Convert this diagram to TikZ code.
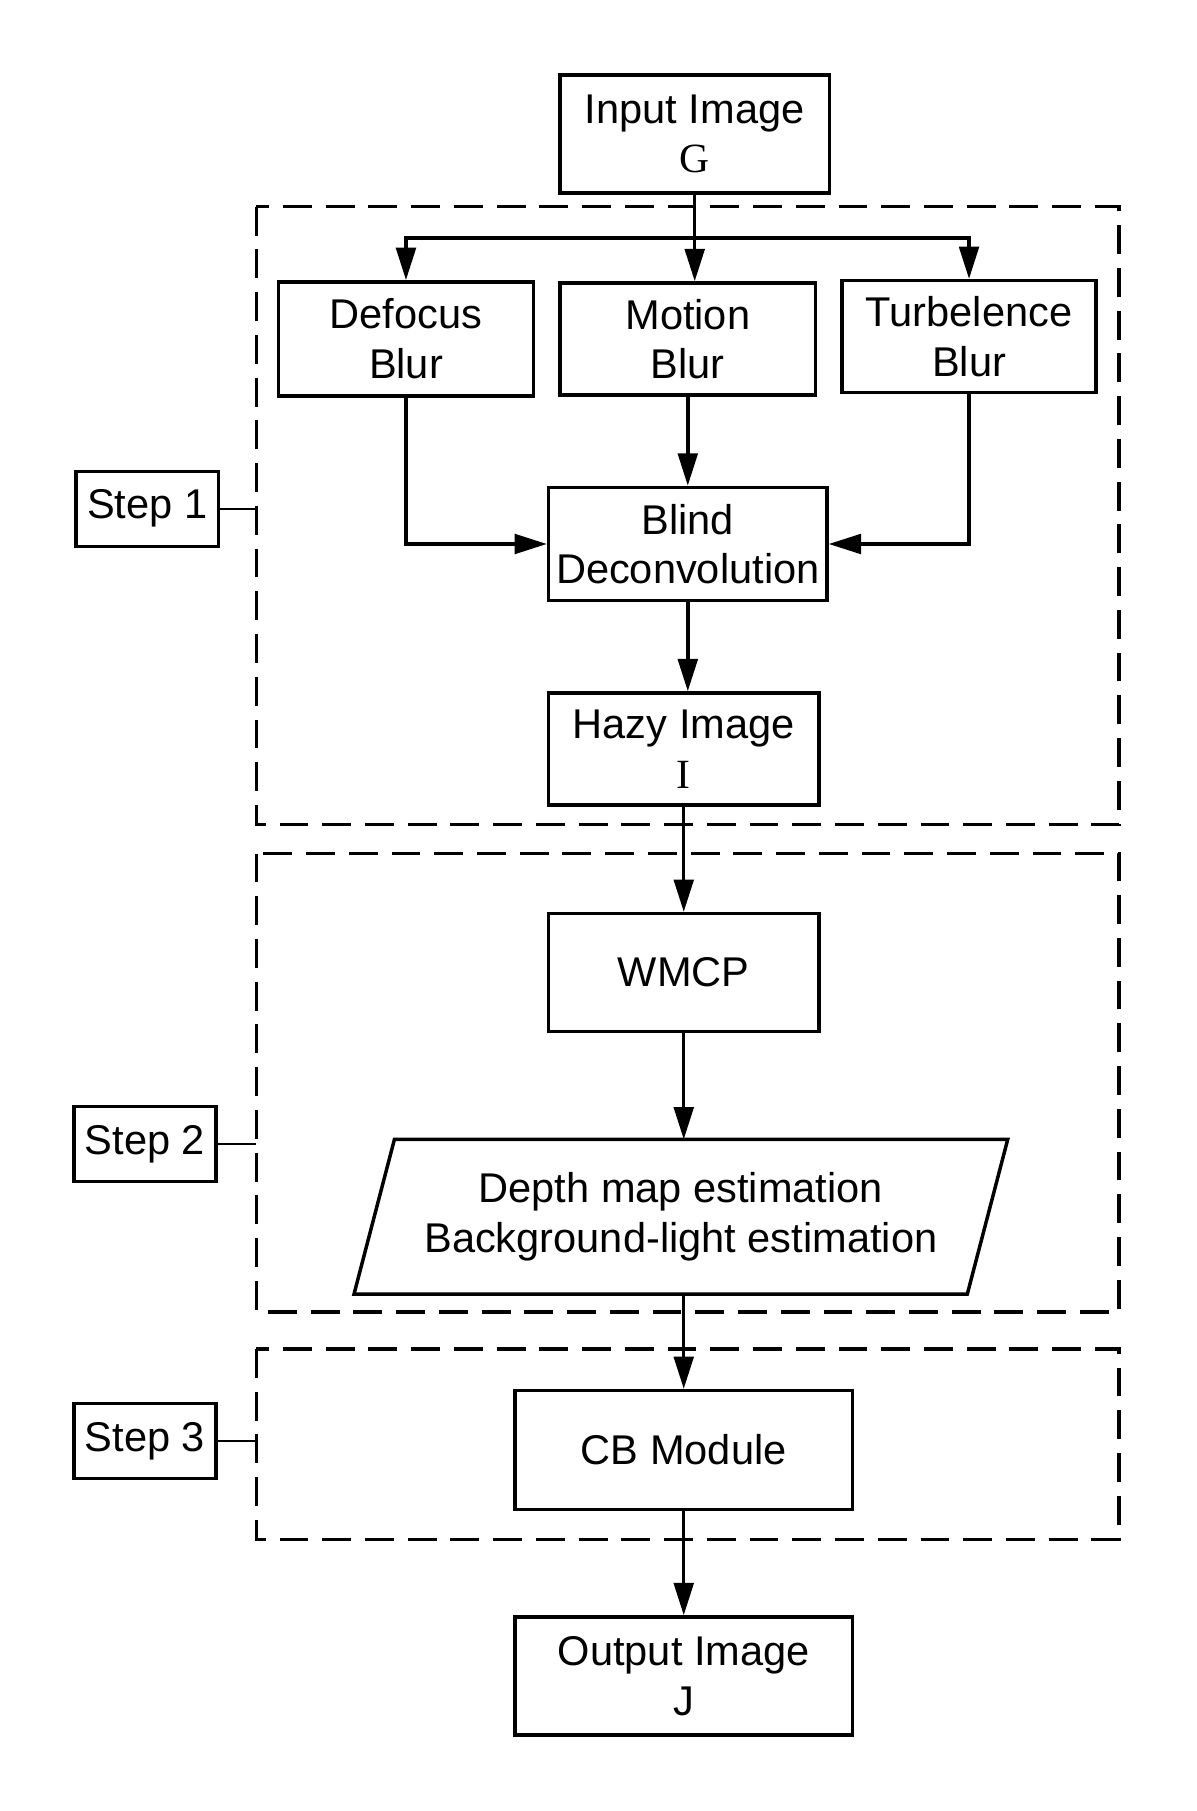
\documentclass[tikz,border=0pt]{standalone}
\usepackage{fontspec}
\setmainfont{Liberation Sans}
\newfontfamily\serifletter{Liberation Serif}
\usetikzlibrary{arrows.meta}

\begin{document}
\begin{tikzpicture}
  [x=0.5pt,y=-0.5pt,>={Triangle[length=14pt,width=8.5pt]},
   every node/.style={draw,line width=1.5pt,inner sep=0pt,align=center,font=\fontsize{18}{21.5}\selectfont},
   stepbox/.style={minimum width=61.5pt,minimum height=32.5pt},
   frame/.style={line width=1.5pt,dash pattern=on 12.5pt off 6pt},
   flow/.style={line width=1.5pt},
   tag/.style={line width=1pt}]
  \useasboundingbox (0,0) rectangle (1036,1568);

  \node (input) at (601.5,116) [minimum width=116.5pt,minimum height=51pt] {Input Image\\{\serifletter G}};
  \node (defocus) at (351.5,293.5) [minimum width=110.5pt,minimum height=49.5pt] {Defocus\\Blur};
  \node (motion) at (595.5,293.5) [minimum width=110.5pt,minimum height=48.5pt] {Motion\\Blur};
  \node (turb) at (839,291.5) [minimum width=110pt,minimum height=48.5pt] {Turbelence\\Blur};
  \node (blind) at (595.5,471) [minimum width=120.5pt,minimum height=49pt] {Blind\\Deconvolution};
  \node (hazy) at (592,648.5) [minimum width=117pt,minimum height=48.5pt] {Hazy Image\\{\serifletter I}};
  \node (wmcp) at (592,842) [minimum width=117pt,minimum height=51pt] {WMCP};
  \node (depth) at (589.5,1053.5) [draw=none,minimum width=264pt,minimum height=65.5pt]
    {Depth map estimation\\Background-light estimation};
  \node (cb) at (592,1255.5) [minimum width=146pt,minimum height=51.5pt] {CB Module};
  \node (output) at (592,1451) [minimum width=146pt,minimum height=51pt] {Output Image\\J};

  \node (step1) at (127.5,440.5) [stepbox] {Step 1};
  \node (step2) at (125.5,990.5) [stepbox] {Step 2};
  \node (step3) at (125.5,1247.5) [stepbox] {Step 3};

  % slanted outline of the estimation box
  \draw[flow,line join=miter] ([xshift=8.75pt]depth.north west) -- ([xshift=8.75pt]depth.north east)
    -- ([xshift=-8.75pt]depth.south east) -- ([xshift=-8.75pt]depth.south west) -- cycle;

  % dashed step regions
  \coordinate (frame1) at (222,179);
  \coordinate (frame2) at (222,739);
  \coordinate (frame3) at (222,1168);
  \draw[frame] (frame1) rectangle (969,714);
  \draw[frame] (frame2) rectangle (969,1136);
  \draw[frame] (frame3) rectangle (969,1333);

  \draw[tag] (step1) -- (step1 -| frame1);
  \draw[tag] (step2) -- (step2 -| frame2);
  \draw[tag] (step3) -- (step3 -| frame3);

  \coordinate (split) at (601.5,206);
  \draw[flow] (input) -- (split);
  \draw[flow,->] (split) -| (defocus);
  \draw[flow,->] (split) -- (split |- motion.north);
  \draw[flow,->] (split) -| (turb);

  \draw[flow,->] (defocus) |- (blind);
  \draw[flow,->] (motion) -- (motion |- blind.north);
  \draw[flow,->] (turb) |- (blind);

  \draw[flow,->] (blind) -- (blind |- hazy.north);
  \draw[flow,->] (hazy) -- (hazy |- wmcp.north);
  \draw[flow,->] (wmcp) -- (wmcp |- depth.north);
  \draw[flow,->] (cb |- depth.south) -- (cb);
  \draw[flow,->] (cb) -- (output);
\end{tikzpicture}
\end{document}
